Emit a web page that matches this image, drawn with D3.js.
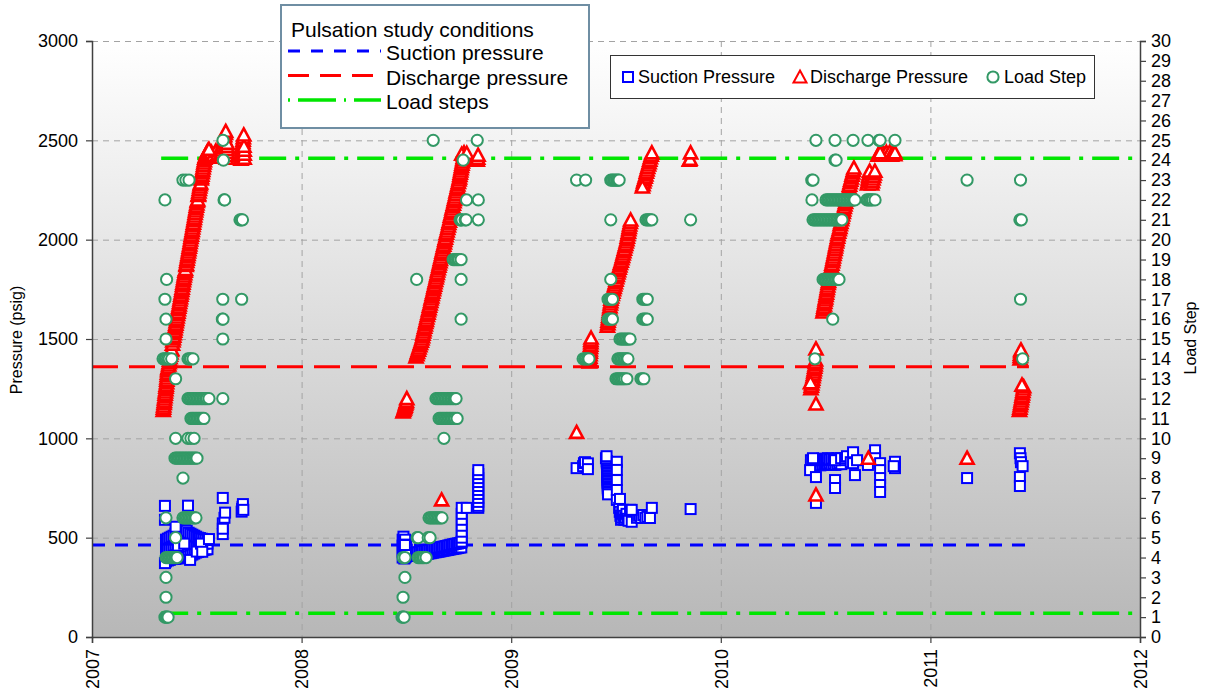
<!DOCTYPE html>
<html><head><meta charset="utf-8">
<script src="https://cdn.jsdelivr.net/npm/d3@7"></script>
<style>
body{margin:0;background:#fff}
text{font-family:"Liberation Sans",Arial,sans-serif;fill:#000}
</style>
</head><body>
<svg id="chart" width="1205" height="694"></svg>
<script>
// ================= DATA =================
const yearTicks = [2007, 2008, 2009, 2010, 2011, 2012];
const pressureTicks = [0, 500, 1000, 1500, 2000, 2500, 3000];
const loadStepTicks = [0,1,2,3,4,5,6,7,8,9,10,11,12,13,14,15,16,17,18,19,20,21,22,23,24,25,26,27,28,29,30];

// Pulsation study conditions
const suctionCondition = 463;           // psig
const dischargeCondition = 1360;        // psig
const loadStepConditions = [1.2, 24.1]; // load step
const conditionPressureSpan = [2007, 2011.47];
const conditionLoadSpan = [2007.33, 2012];

// ---- Suction pressure [year, psig] ----
const suction2007 = [
 [2007.353,380],[2007.362,385],[2007.371,388],[2007.380,392],[2007.389,395],[2007.398,393],[2007.407,396],[2007.416,398],
 [2007.425,396],[2007.434,400],[2007.443,398],[2007.452,402],[2007.461,406],[2007.470,410],[2007.479,415],[2007.488,420],
 [2007.497,425],[2007.506,428],[2007.515,432],[2007.524,435],[2007.533,438],[2007.542,440],[2007.551,442],
 [2007.353,440],[2007.362,445],[2007.371,450],[2007.380,455],[2007.389,460],[2007.398,462],[2007.407,465],[2007.416,468],
 [2007.425,470],[2007.434,472],[2007.443,470],[2007.452,468],[2007.461,470],[2007.470,472],[2007.479,470],[2007.488,468],
 [2007.497,470],[2007.506,472],[2007.515,470],[2007.524,468],[2007.533,470],[2007.542,472],[2007.551,470],
 [2007.353,490],[2007.362,495],[2007.371,500],[2007.380,505],[2007.389,510],[2007.398,520],[2007.407,525],[2007.416,530],
 [2007.425,535],[2007.434,540],[2007.443,540],[2007.452,535],[2007.461,525],[2007.470,520],[2007.479,515],[2007.488,510],
 [2007.497,505],[2007.506,500],[2007.515,498],[2007.524,495],[2007.533,492],[2007.542,490],[2007.551,488],
 [2007.348,660],[2007.348,590],[2007.348,372],[2007.458,661],[2007.468,388],[2007.410,460],[2007.440,470],[2007.500,430],
 [2007.399,555],[2007.520,470],[2007.526,429],[2007.558,493],
 [2007.624,700],[2007.624,572],[2007.624,518],[2007.624,545],[2007.632,600],[2007.635,626],
 [2007.714,631],[2007.716,645],[2007.718,655],[2007.720,669],[2007.722,640]
];
const suction2008 = [
 [2008.482,400],[2008.482,430],[2008.482,460],[2008.482,490],[2008.486,410],[2008.486,440],[2008.486,470],[2008.486,505],
 [2008.490,395],[2008.490,425],[2008.490,455],[2008.490,485],[2008.494,400],[2008.494,430],[2008.494,460],[2008.494,490],
 [2008.498,405],[2008.498,435],[2008.498,465],[2008.502,410],[2008.502,440],[2008.493,463],
 [2008.546,408],[2008.554,410],[2008.562,411],[2008.570,413],[2008.578,414],[2008.586,416],[2008.594,418],[2008.602,419],
 [2008.610,421],[2008.618,422],[2008.626,424],[2008.634,426],[2008.642,427],[2008.650,429],[2008.658,430],[2008.666,432],
 [2008.674,434],[2008.682,435],[2008.690,437],[2008.698,438],[2008.706,440],[2008.714,442],[2008.722,443],[2008.730,445],
 [2008.738,446],[2008.746,448],[2008.754,450],[2008.762,451],
 [2008.546,424],[2008.554,426],[2008.562,428],[2008.570,430],[2008.578,432],[2008.586,434],[2008.594,435],[2008.602,437],
 [2008.610,439],[2008.618,441],[2008.626,443],[2008.634,445],[2008.642,447],[2008.650,449],[2008.658,451],[2008.666,452],
 [2008.674,454],[2008.682,456],[2008.690,458],[2008.698,460],[2008.706,462],[2008.714,464],[2008.722,466],[2008.730,468],
 [2008.738,470],[2008.746,471],[2008.754,473],[2008.762,475],
 [2008.764,480],[2008.764,500],[2008.764,530],[2008.764,560],[2008.764,590],[2008.764,620],[2008.764,650],
 [2008.788,650],[2008.843,650],
 [2008.843,660],[2008.843,680],[2008.843,700],[2008.843,720],[2008.843,740],[2008.843,760],[2008.843,780],[2008.843,800],
 [2008.843,820],[2008.843,840]
];
const suction2009 = [
 [2009.312,850],[2009.343,860],[2009.347,875],[2009.352,880],[2009.366,874],[2009.366,845],
 [2009.456,886],[2009.456,878],[2009.457,870],[2009.457,862],[2009.457,854],[2009.458,846],[2009.458,838],[2009.458,830],
 [2009.459,822],[2009.459,814],[2009.459,806],[2009.460,798],[2009.460,790],[2009.460,782],[2009.460,774],[2009.461,766],
 [2009.461,758],[2009.461,750],[2009.461,742],[2009.462,734],[2009.462,726],[2009.462,718],[2009.452,900],[2009.455,910],
 [2009.504,882],[2009.504,841],[2009.504,790],[2009.504,740],[2009.504,690],
 [2009.515,650],[2009.518,630],[2009.521,610],[2009.524,590],[2009.527,600],[2009.530,620],[2009.533,640],[2009.536,610],
 [2009.540,590],[2009.545,600],[2009.550,620],[2009.555,595],[2009.560,585],[2009.519,695],[2009.567,640],[2009.575,580],
 [2009.600,600],[2009.610,610],[2009.620,600],[2009.630,614],[2009.640,600],[2009.650,605],[2009.662,599],[2009.575,640],
 [2009.671,650],[2009.856,644]
];
const suction2010 = [
 [2010.430,865],[2010.439,868],[2010.448,862],[2010.457,866],[2010.466,870],[2010.475,864],[2010.484,868],[2010.493,872],
 [2010.502,866],[2010.511,870],[2010.520,874],[2010.529,868],[2010.538,872],[2010.547,866],[2010.556,870],[2010.565,875],
 [2010.575,870],
 [2010.430,890],[2010.439,895],[2010.448,892],[2010.457,896],[2010.466,890],[2010.475,894],[2010.484,898],[2010.493,892],
 [2010.502,896],[2010.511,900],[2010.520,894],[2010.529,898],[2010.538,892],[2010.547,896],[2010.556,900],[2010.565,895],
 [2010.575,890],
 [2010.440,900],[2010.426,840],[2010.454,805],[2010.454,675],[2010.545,890],[2010.545,790],[2010.545,750],[2010.574,900],
 [2010.593,900],[2010.602,910],[2010.620,880],[2010.631,875],[2010.631,930],[2010.640,815],[2010.650,890],[2010.702,866],
 [2010.736,940],[2010.736,900],[2010.760,875],[2010.760,840],[2010.760,800],[2010.760,765],[2010.760,730],
 [2010.831,882],[2010.831,850],[2010.825,860]
];
const suction2011 = [
 [2011.175,800],
 [2011.427,925],[2011.430,900],[2011.432,880],[2011.440,860],[2011.427,805],[2011.427,760]
];

// ---- Discharge pressure [year, psig] ----
const discharge2007 = [
 [2007.340,1140],[2007.341,1152],[2007.342,1163],[2007.344,1175],[2007.345,1186],[2007.346,1198],[2007.348,1210],[2007.349,1222],
 [2007.350,1233],[2007.352,1245],[2007.353,1257],[2007.354,1268],[2007.356,1280],[2007.357,1292],[2007.358,1304],[2007.359,1316],
 [2007.360,1328],[2007.361,1340],[2007.362,1350],
 [2007.364,1357],[2007.366,1369],[2007.368,1381],[2007.370,1393],[2007.372,1406],[2007.374,1418],[2007.376,1430],[2007.378,1442],
 [2007.380,1448],[2007.384,1474],[2007.386,1490],[2007.388,1502],[2007.390,1514],[2007.392,1527],[2007.394,1539],[2007.396,1551],
 [2007.398,1563],[2007.400,1575],[2007.402,1587],[2007.404,1599],[2007.406,1611],[2007.408,1623],[2007.410,1635],[2007.412,1648],
 [2007.414,1660],[2007.416,1672],[2007.418,1684],[2007.420,1696],[2007.422,1708],[2007.424,1720],[2007.426,1732],[2007.428,1744],
 [2007.430,1756],[2007.432,1769],[2007.434,1781],[2007.436,1793],[2007.438,1805],[2007.440,1817],[2007.442,1829],[2007.444,1841],
 [2007.446,1850],[2007.449,1870],[2007.450,1877],[2007.452,1890],[2007.454,1902],[2007.456,1914],[2007.458,1926],[2007.460,1938],
 [2007.462,1950],[2007.464,1962],[2007.466,1974],[2007.468,1986],[2007.470,1998],[2007.472,2011],[2007.474,2023],[2007.476,2035],
 [2007.478,2047],[2007.480,2059],[2007.482,2071],[2007.484,2083],[2007.486,2095],[2007.488,2107],[2007.490,2119],[2007.492,2132],
 [2007.494,2144],[2007.496,2156],[2007.498,2168],[2007.500,2180],[2007.502,2192],[2007.504,2200],[2007.507,2222],[2007.508,2228],
 [2007.510,2240],[2007.512,2253],[2007.514,2265],[2007.516,2277],[2007.518,2285],[2007.521,2306],[2007.522,2313],[2007.524,2325],
 [2007.526,2337],[2007.528,2349],[2007.530,2361],[2007.532,2374],[2007.534,2386],[2007.536,2398],[2007.538,2410],[2007.541,2420],
 [2007.545,2430],[2007.549,2440],[2007.553,2448],[2007.560,2430],[2007.570,2440],[2007.580,2425],[2007.590,2445],[2007.600,2430],
 [2007.558,2455],
 [2007.612,2415],[2007.614,2427],[2007.617,2439],[2007.619,2451],[2007.622,2463],[2007.624,2475],[2007.626,2487],[2007.629,2499],
 [2007.631,2511],[2007.633,2523],[2007.636,2535],[2007.641,2410],[2007.643,2425],[2007.645,2440],[2007.645,2455],[2007.645,2470],
 [2007.645,2485],[2007.638,2545],
 [2007.711,2405],[2007.712,2417],[2007.713,2429],[2007.714,2441],[2007.716,2453],[2007.717,2465],[2007.718,2477],[2007.720,2489],
 [2007.721,2501],[2007.722,2513],[2007.726,2410],[2007.726,2430],[2007.726,2450],[2007.725,2470],[2007.724,2527]
];
const discharge2008 = [
 [2008.484,1133],[2008.487,1140],[2008.490,1148],[2008.492,1155],[2008.494,1162],[2008.496,1170],[2008.498,1178],[2008.500,1186],
 [2008.502,1200],
 [2008.668,690],
 [2008.546,1410],[2008.550,1421],[2008.553,1432],[2008.557,1444],[2008.560,1455],[2008.564,1466],[2008.567,1477],[2008.571,1489],
 [2008.574,1500],[2008.577,1512],[2008.579,1524],[2008.582,1535],[2008.584,1547],[2008.587,1559],[2008.590,1571],[2008.592,1583],
 [2008.595,1594],[2008.597,1606],[2008.600,1618],[2008.603,1630],[2008.605,1642],[2008.608,1653],[2008.610,1665],[2008.613,1677],
 [2008.616,1689],[2008.618,1701],[2008.621,1712],[2008.623,1724],[2008.626,1736],[2008.629,1748],[2008.631,1760],[2008.634,1771],
 [2008.636,1783],[2008.639,1795],[2008.642,1807],[2008.644,1819],[2008.647,1830],[2008.649,1842],[2008.652,1854],[2008.655,1866],
 [2008.657,1878],[2008.660,1889],[2008.662,1901],[2008.665,1913],[2008.668,1925],[2008.670,1937],[2008.673,1948],[2008.675,1960],
 [2008.678,1972],[2008.681,1984],[2008.683,1996],[2008.686,2007],[2008.689,2020],[2008.691,2032],[2008.694,2044],[2008.697,2057],
 [2008.700,2069],[2008.702,2081],[2008.705,2093],[2008.708,2105],[2008.710,2118],[2008.713,2130],[2008.716,2142],[2008.718,2154],
 [2008.721,2166],[2008.724,2179],[2008.727,2191],[2008.729,2203],[2008.732,2215],[2008.735,2227],[2008.737,2240],[2008.740,2252],
 [2008.743,2264],[2008.745,2276],[2008.748,2288],[2008.751,2300],[2008.753,2311],[2008.755,2323],[2008.757,2334],[2008.759,2346],
 [2008.761,2357],[2008.763,2368],[2008.765,2380],[2008.767,2391],[2008.769,2403],[2008.771,2414],[2008.773,2426],[2008.775,2437],
 [2008.764,2430],[2008.788,2435],
 [2008.838,2400],[2008.840,2410],[2008.842,2425]
];
const discharge2009 = [
 [2009.312,1030],
 [2009.373,1385],[2009.374,1397],[2009.375,1409],[2009.376,1421],[2009.377,1433],[2009.377,1445],[2009.378,1457],[2009.379,1469],
 [2009.380,1481],[2009.380,1493],[2009.381,1505],
 [2009.459,1565],[2009.461,1577],[2009.462,1590],[2009.464,1602],[2009.465,1614],[2009.467,1627],[2009.468,1639],[2009.470,1651],
 [2009.471,1663],[2009.473,1676],[2009.475,1688],[2009.476,1700],[2009.479,1712],[2009.482,1724],[2009.485,1736],[2009.488,1748],
 [2009.491,1760],[2009.494,1772],[2009.497,1784],[2009.500,1796],[2009.503,1808],[2009.506,1820],[2009.509,1832],[2009.512,1844],
 [2009.515,1856],[2009.518,1868],[2009.521,1880],[2009.525,1892],[2009.528,1904],[2009.531,1916],[2009.534,1928],[2009.537,1940],
 [2009.540,1952],[2009.543,1964],[2009.546,1976],[2009.549,1988],[2009.552,2000],[2009.554,2012],[2009.556,2025],[2009.559,2037],
 [2009.561,2050],[2009.563,2062],[2009.565,2074],[2009.568,2087],[2009.570,2099],
 [2009.629,2277],[2009.632,2290],[2009.635,2302],[2009.639,2314],[2009.642,2326],[2009.645,2339],[2009.648,2351],[2009.651,2363],
 [2009.655,2376],[2009.658,2388],[2009.661,2400],[2009.664,2412],[2009.668,2425],[2009.626,2265],[2009.671,2437],
 [2009.850,2400],[2009.853,2405],[2009.856,2437]
];
const discharge2010 = [
 [2010.430,1250],[2010.432,1262],[2010.434,1274],[2010.436,1286],[2010.438,1298],[2010.440,1310],[2010.442,1322],[2010.444,1334],
 [2010.446,1346],[2010.448,1358],[2010.450,1370],[2010.451,1382],[2010.452,1394],[2010.428,1280],[2010.454,1450],[2010.454,1173],
 [2010.454,715],
 [2010.488,1636],[2010.490,1648],[2010.492,1660],[2010.494,1672],[2010.496,1684],[2010.498,1696],[2010.500,1707],[2010.502,1719],
 [2010.504,1731],[2010.506,1743],[2010.508,1755],[2010.510,1767],[2010.512,1779],[2010.514,1790],[2010.516,1802],[2010.518,1814],
 [2010.521,1827],[2010.523,1839],[2010.526,1852],[2010.528,1864],[2010.530,1876],[2010.533,1889],[2010.535,1901],[2010.537,1913],
 [2010.540,1926],[2010.542,1938],[2010.545,1951],[2010.547,1963],[2010.549,1975],[2010.552,1988],[2010.554,2000],[2010.557,2012],
 [2010.559,2025],[2010.562,2037],[2010.565,2050],[2010.568,2062],[2010.570,2075],[2010.573,2087],[2010.576,2100],[2010.578,2112],
 [2010.581,2125],[2010.584,2137],[2010.586,2150],[2010.589,2162],[2010.592,2175],[2010.595,2187],[2010.597,2200],[2010.600,2212],
 [2010.603,2225],[2010.606,2237],[2010.609,2250],[2010.612,2262],[2010.614,2274],[2010.617,2287],[2010.620,2299],[2010.623,2311],
 [2010.626,2324],[2010.629,2336],[2010.632,2348],[2010.635,2361],
 [2010.700,2280],[2010.702,2292],[2010.704,2305],[2010.706,2318],[2010.708,2331],[2010.714,2300],[2010.717,2310],[2010.720,2280],
 [2010.723,2292],[2010.726,2305],[2010.729,2318],[2010.732,2331],[2010.710,2345],[2010.735,2345],
 [2010.704,900],
 [2010.750,2425],[2010.758,2440],[2010.766,2425],[2010.774,2440],[2010.782,2425],[2010.790,2440],[2010.798,2425],[2010.806,2440],
 [2010.814,2425],[2010.822,2440],[2010.830,2428],[2010.760,2437],[2010.831,2437]
];
const discharge2011 = [
 [2011.175,900],
 [2011.425,1140],[2011.427,1152],[2011.429,1164],[2011.431,1176],[2011.433,1188],[2011.435,1200],[2011.437,1212],[2011.439,1224],
 [2011.441,1236],[2011.443,1248],[2011.445,1260],[2011.428,1400],[2011.429,1412],[2011.430,1424],[2011.431,1436],[2011.432,1445],
 [2011.437,1268]
];

// ---- Load step [year, step] ----
const load2007 = [
 [2007.348,22],[2007.434,23],[2007.448,23],[2007.463,23],[2007.625,25],[2007.627,24],[2007.630,22],[2007.633,22],
 [2007.706,21],[2007.712,21],[2007.718,21],[2007.356,18],[2007.348,17],[2007.624,17],[2007.714,17],
 [2007.353,16],[2007.622,16],[2007.625,16],[2007.353,15],[2007.624,15],
 [2007.339,14],[2007.346,14],[2007.353,14],[2007.360,14],[2007.368,14],[2007.380,14],[2007.458,14],[2007.465,14],[2007.472,14],[2007.482,14],
 [2007.399,13],
 [2007.458,12],[2007.465,12],[2007.472,12],[2007.479,12],[2007.486,12],[2007.493,12],[2007.500,12],[2007.507,12],[2007.514,12],
 [2007.521,12],[2007.528,12],[2007.535,12],[2007.542,12],[2007.549,12],[2007.558,12],[2007.624,12],
 [2007.472,11],[2007.479,11],[2007.486,11],[2007.493,11],[2007.500,11],[2007.507,11],[2007.514,11],[2007.521,11],[2007.528,11],[2007.534,11],
 [2007.399,10],[2007.458,10],[2007.472,10],[2007.487,10],
 [2007.396,9],[2007.403,9],[2007.410,9],[2007.417,9],[2007.424,9],[2007.431,9],[2007.438,9],[2007.445,9],[2007.452,9],[2007.459,9],
 [2007.466,9],[2007.473,9],[2007.480,9],[2007.487,9],[2007.494,9],[2007.501,9],
 [2007.434,8],
 [2007.353,6],[2007.434,6],[2007.441,6],[2007.448,6],[2007.455,6],[2007.462,6],[2007.469,6],[2007.476,6],[2007.483,6],[2007.490,6],[2007.496,6],
 [2007.399,5],
 [2007.353,4],[2007.360,4],[2007.367,4],[2007.374,4],[2007.381,4],[2007.388,4],[2007.395,4],[2007.402,4],[2007.406,4],
 [2007.353,3],[2007.353,2],[2007.348,1],[2007.353,1],[2007.358,1],[2007.363,1]
];
const load2008 = [
 [2008.628,25],[2008.838,25],[2008.771,24],[2008.787,22],[2008.843,22],
 [2008.756,21],[2008.760,21],[2008.765,21],[2008.780,21],[2008.785,21],[2008.843,21],
 [2008.723,19],[2008.730,19],[2008.737,19],[2008.744,19],[2008.751,19],[2008.761,19],
 [2008.549,18],[2008.761,18],[2008.761,16],
 [2008.641,12],[2008.648,12],[2008.655,12],[2008.662,12],[2008.669,12],[2008.676,12],[2008.683,12],[2008.690,12],
 [2008.697,12],[2008.704,12],[2008.711,12],[2008.718,12],[2008.725,12],[2008.732,12],[2008.737,12],
 [2008.656,11],[2008.663,11],[2008.670,11],[2008.677,11],[2008.684,11],[2008.691,11],[2008.698,11],[2008.705,11],
 [2008.712,11],[2008.719,11],[2008.726,11],[2008.733,11],[2008.742,11],
 [2008.679,10],
 [2008.608,6],[2008.615,6],[2008.622,6],[2008.629,6],[2008.636,6],[2008.643,6],[2008.650,6],[2008.657,6],[2008.664,6],[2008.670,6],
 [2008.551,5],[2008.556,5],[2008.604,5],[2008.613,5],
 [2008.484,4],[2008.493,4],[2008.556,4],[2008.563,4],[2008.570,4],[2008.577,4],[2008.584,4],[2008.594,4],
 [2008.493,3],[2008.484,2],[2008.479,1],[2008.484,1],[2008.489,1]
];
const load2009 = [
 [2009.312,23],[2009.355,23],[2009.475,23],[2009.482,23],[2009.489,23],[2009.496,23],[2009.503,23],[2009.510,23],[2009.515,23],
 [2009.475,21],[2009.643,21],[2009.650,21],[2009.657,21],[2009.664,21],[2009.671,21],[2009.856,21],
 [2009.475,18],
 [2009.462,17],[2009.469,17],[2009.476,17],[2009.483,17],[2009.628,17],[2009.635,17],[2009.642,17],[2009.649,17],
 [2009.462,16],[2009.469,16],[2009.476,16],[2009.483,16],[2009.628,16],[2009.635,16],[2009.642,16],[2009.649,16],
 [2009.519,15],[2009.526,15],[2009.533,15],[2009.540,15],[2009.547,15],[2009.554,15],[2009.561,15],[2009.567,15],
 [2009.343,14],[2009.350,14],[2009.357,14],[2009.364,14],[2009.371,14],
 [2009.509,14],[2009.516,14],[2009.523,14],[2009.530,14],[2009.537,14],[2009.544,14],[2009.551,14],[2009.557,14],
 [2009.500,13],[2009.507,13],[2009.514,13],[2009.521,13],[2009.528,13],[2009.535,13],[2009.542,13],[2009.552,13],
 [2009.619,13],[2009.626,13],[2009.633,13]
];
const load2010 = [
 [2010.454,25],[2010.545,25],[2010.631,25],[2010.702,25],[2010.755,25],[2010.760,25],[2010.831,25],
 [2010.545,24],[2010.550,24],[2010.434,23],[2010.440,23],
 [2010.435,22],[2010.502,22],[2010.509,22],[2010.516,22],[2010.523,22],[2010.530,22],[2010.537,22],[2010.544,22],[2010.551,22],
 [2010.558,22],[2010.565,22],[2010.572,22],[2010.579,22],[2010.586,22],[2010.593,22],[2010.600,22],[2010.607,22],[2010.614,22],
 [2010.621,22],[2010.628,22],[2010.635,22],[2010.640,22],
 [2010.697,22],[2010.704,22],[2010.711,22],[2010.718,22],[2010.725,22],[2010.736,22],
 [2010.440,21],[2010.447,21],[2010.454,21],[2010.461,21],[2010.468,21],[2010.475,21],[2010.482,21],[2010.489,21],[2010.496,21],
 [2010.503,21],[2010.510,21],[2010.517,21],[2010.524,21],[2010.531,21],[2010.538,21],[2010.545,21],[2010.552,21],[2010.559,21],
 [2010.566,21],[2010.573,21],[2010.578,21],
 [2010.488,18],[2010.495,18],[2010.502,18],[2010.509,18],[2010.516,18],[2010.523,18],[2010.530,18],[2010.537,18],[2010.544,18],
 [2010.551,18],[2010.558,18],[2010.564,18],
 [2010.534,16],[2010.449,14]
];
const load2011 = [
 [2011.175,23],[2011.430,23],[2011.427,21],[2011.434,21],[2011.430,17],[2011.440,14]
];

const suctionPressure = [].concat(suction2007, suction2008, suction2009, suction2010, suction2011);
const dischargePressure = [].concat(discharge2007, discharge2008, discharge2009, discharge2010, discharge2011);
const loadStep = [].concat(load2007, load2008, load2009, load2010, load2011);

// ================= CHART =================
const svg = d3.select("#chart");
const M = {left: 92, right: 1140, top: 41, bottom: 637};
const FONT = '"Liberation Sans",Arial,sans-serif';

const x = d3.scaleLinear().domain([2007, 2012]).range([M.left, M.right]);
const yP = d3.scaleLinear().domain([0, 3000]).range([M.bottom, M.top]);
const yL = d3.scaleLinear().domain([0, 30]).range([M.bottom, M.top]);

// gradient plot background
const defs = svg.append("defs");
const grad = defs.append("linearGradient").attr("id", "bg").attr("x1", 0).attr("y1", 0).attr("x2", 0).attr("y2", 1);
grad.append("stop").attr("offset", "0%").attr("stop-color", "#ffffff");
grad.append("stop").attr("offset", "100%").attr("stop-color", "#b7b7b7");
svg.append("rect").attr("x", M.left).attr("y", M.top)
  .attr("width", M.right - M.left).attr("height", M.bottom - M.top).attr("fill", "url(#bg)");

// grid
const grid = svg.append("g").attr("stroke", "#a3a3a3").attr("stroke-width", 1).attr("stroke-dasharray", "6,5");
grid.selectAll(".h").data(pressureTicks.filter(d => d > 0)).join("line")
  .attr("x1", M.left).attr("x2", M.right).attr("y1", d => yP(d) + 0.5).attr("y2", d => yP(d) + 0.5);
grid.selectAll(".v").data(yearTicks.filter(d => d > 2007 && d < 2012)).join("line")
  .attr("y1", M.top).attr("y2", M.bottom).attr("x1", d => x(d) + 0.5).attr("x2", d => x(d) + 0.5);

// condition lines
const cond = svg.append("g").attr("fill", "none");
cond.append("line").attr("x1", x(conditionPressureSpan[0])).attr("x2", x(conditionPressureSpan[1]))
  .attr("y1", yP(suctionCondition)).attr("y2", yP(suctionCondition))
  .attr("stroke", "#0000ff").attr("stroke-width", 3).attr("stroke-dasharray", "13,10");
cond.append("line").attr("x1", x(conditionPressureSpan[0])).attr("x2", x(conditionPressureSpan[1]))
  .attr("y1", yP(dischargeCondition)).attr("y2", yP(dischargeCondition))
  .attr("stroke", "#ff0000").attr("stroke-width", 3).attr("stroke-dasharray", "26,11");
loadStepConditions.forEach(s => {
  cond.append("line").attr("x1", x(conditionLoadSpan[0])).attr("x2", x(conditionLoadSpan[1]))
    .attr("y1", yL(s)).attr("y2", yL(s))
    .attr("stroke", "#00e600").attr("stroke-width", 3.5).attr("stroke-dasharray", "27,9,4,9");
});

// markers
const triPath = "M0,-6.5L6.5,5.5L-6.5,5.5Z";
svg.append("g").selectAll("rect").data(suctionPressure).join("rect")
  .attr("x", d => x(d[0]) - 5).attr("y", d => yP(d[1]) - 5).attr("width", 10).attr("height", 10)
  .attr("fill", "#fff").attr("stroke", "#0000ff").attr("stroke-width", 2);
svg.append("g").selectAll("path").data(dischargePressure).join("path")
  .attr("d", triPath).attr("transform", d => `translate(${x(d[0])},${yP(d[1])})`)
  .attr("fill", "#fff").attr("stroke", "#ff0000").attr("stroke-width", 2.6).attr("stroke-linejoin", "miter");
svg.append("g").selectAll("circle").data(loadStep).join("circle")
  .attr("cx", d => x(d[0])).attr("cy", d => yL(d[1])).attr("r", 5.6)
  .attr("fill", "#fff").attr("stroke", "#339966").attr("stroke-width", 2);

// axes
const axisColor = "#404040";
const gl = svg.append("g").attr("transform", `translate(${M.left},0)`)
  .call(d3.axisLeft(yP).tickValues(pressureTicks).tickSize(6).tickPadding(8).tickFormat(d3.format("d")));
const gr = svg.append("g").attr("transform", `translate(${M.right},0)`)
  .call(d3.axisRight(yL).tickValues(loadStepTicks).tickSize(6).tickPadding(5).tickFormat(d3.format("d")));
const gb = svg.append("g").attr("transform", `translate(0,${M.bottom})`)
  .call(d3.axisBottom(x).tickValues(yearTicks).tickSize(6).tickFormat(d3.format("d")));
[gl, gr, gb].forEach(g => {
  g.select(".domain").attr("stroke", axisColor).attr("stroke-width", 1.5);
  g.selectAll(".tick line").attr("stroke", axisColor).attr("stroke-width", 1.2);
  g.selectAll("text").attr("fill", "#000").attr("font-family", FONT);
});
gl.selectAll("text").attr("font-size", 18);
gr.selectAll("text").attr("font-size", 18);
gb.selectAll("text").attr("font-size", 18)
  .attr("transform", "rotate(-90)").attr("text-anchor", "end")
  .attr("x", -12).attr("y", 0).attr("dy", "0.35em");

// axis titles
svg.append("text").attr("transform", "translate(22,340) rotate(-90)").attr("text-anchor", "middle")
  .attr("font-size", 16).text("Pressure (psig)");
svg.append("text").attr("transform", "translate(1196,338) rotate(-90)").attr("text-anchor", "middle")
  .attr("font-size", 16).text("Load Step");

// legend 1: conditions
const lg1 = svg.append("g");
lg1.append("rect").attr("x", 281).attr("y", 5).attr("width", 308).attr("height", 123)
  .attr("fill", "#fff").attr("stroke", "#6f8ea3").attr("stroke-width", 2);
lg1.append("text").attr("x", 291).attr("y", 37).attr("font-size", 21).text("Pulsation study conditions");
const lg1Items = [
  {label: "Suction pressure", color: "#0000ff", dash: "12,11", w: 3},
  {label: "Discharge pressure", color: "#ff0000", dash: "21,11", w: 3},
  {label: "Load steps", color: "#00e600", dash: "2,8,38,8", w: 3.5}
];
lg1Items.forEach((it, i) => {
  const yy = 51 + i * 24.5;
  lg1.append("line").attr("x1", 288).attr("x2", 381).attr("y1", yy).attr("y2", yy)
    .attr("stroke", it.color).attr("stroke-width", it.w).attr("stroke-dasharray", it.dash);
  lg1.append("text").attr("x", 386).attr("y", yy + 9).attr("font-size", 21).text(it.label);
});

// legend 2: series
const lg2 = svg.append("g");
lg2.append("rect").attr("x", 610.5).attr("y", 55.5).attr("width", 484).attr("height", 43)
  .attr("fill", "#fff").attr("stroke", "#333").attr("stroke-width", 1);
const ly = 77;
lg2.append("rect").attr("x", 623).attr("y", ly - 5).attr("width", 10).attr("height", 10)
  .attr("fill", "#fff").attr("stroke", "#0000ff").attr("stroke-width", 2);
lg2.append("text").attr("x", 638).attr("y", ly + 6).attr("font-size", 18).text("Suction Pressure");
lg2.append("path").attr("d", triPath).attr("transform", `translate(800,${ly})`)
  .attr("fill", "#fff").attr("stroke", "#ff0000").attr("stroke-width", 2);
lg2.append("text").attr("x", 810).attr("y", ly + 6).attr("font-size", 18).text("Discharge Pressure");
lg2.append("circle").attr("cx", 993).attr("cy", ly).attr("r", 5.6)
  .attr("fill", "#fff").attr("stroke", "#339966").attr("stroke-width", 2);
lg2.append("text").attr("x", 1004).attr("y", ly + 6).attr("font-size", 18).text("Load Step");
</script>
</body></html>
